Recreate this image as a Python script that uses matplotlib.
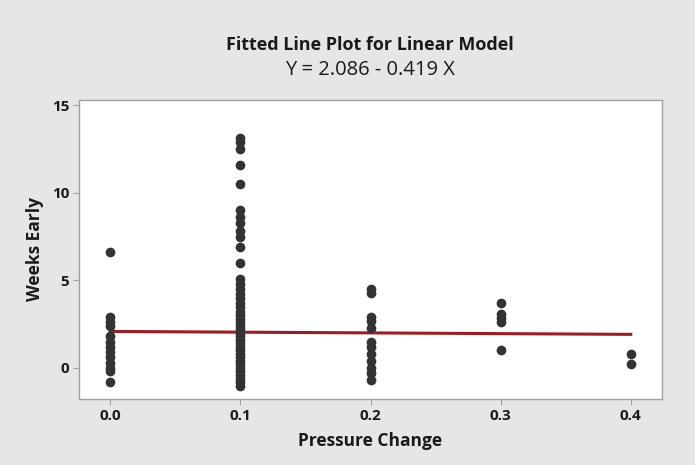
import numpy as np
import matplotlib
matplotlib.use('Agg')
import matplotlib.pyplot as plt

plt.rcParams['font.family'] = ['Open Sans', 'DejaVu Sans']

# Pressure change groups and weeks-early values
y_p00 = [6.6, 2.9, 2.6, 2.4, 1.8, 1.5, 1.2, 0.9, 0.6, 0.3, 0.0, -0.2, -0.8]
y_p01 = [13.1, 12.9, 12.5, 11.6, 10.5, 9.0, 8.6, 8.3, 7.8, 7.5, 6.9, 6.0,
         5.1, 4.8, 4.5, 4.2, 4.0, 3.7, 3.5, 3.2, 3.0, 2.8, 2.6, 2.4, 2.2,
         2.0, 1.8, 1.6, 1.4, 1.2, 1.0, 0.8, 0.6, 0.4, 0.2, 0.0, -0.2,
         -0.4, -0.6, -0.8, -1.0]
y_p02 = [4.5, 4.3, 2.9, 2.7, 2.3, 1.5, 1.2, 0.8, 0.4, 0.0, -0.3, -0.7]
y_p03 = [3.7, 3.1, 2.85, 2.6, 1.0]
y_p04 = [0.8, 0.25]

groups = [0.0, 0.1, 0.2, 0.3, 0.4]
values = [y_p00, y_p01, y_p02, y_p03, y_p04]

intercept = 2.086
slope = -0.419

bg = '#e6e6e6'
fig = plt.figure(figsize=(6.95, 4.65), dpi=100, facecolor=bg)
ax = fig.add_axes([0.1137, 0.1419, 0.8388, 0.6431])
ax.set_facecolor('white')

for g, vals in zip(groups, values):
    ax.plot([g] * len(vals), vals, 'o', color='#333333', markersize=7,
            markeredgewidth=0, zorder=3)

xf = np.array([0.0, 0.4])
ax.plot(xf, intercept + slope * xf, color='#a01b20', lw=2.2, zorder=2)

ax.set_xlim(-0.024, 0.424)
ax.set_ylim(-1.77, 15.29)
ax.set_xticks(groups)
ax.set_xticklabels(['0.0', '0.1', '0.2', '0.3', '0.4'])
ax.set_yticks([0, 5, 10, 15])

for s in ax.spines.values():
    s.set_color('#a0a0a0')
    s.set_linewidth(1.0)
ax.tick_params(direction='out', length=4, width=0.8, color='#a0a0a0',
               labelsize=11, labelcolor='#1a1a1a', pad=3)
for lab in ax.get_xticklabels() + ax.get_yticklabels():
    lab.set_fontweight('bold')

ax.set_xlabel('Pressure Change', fontsize=12.5, fontweight='bold',
              color='#1a1a1a', labelpad=7)
ax.set_ylabel('Weeks Early', fontsize=12.5, fontweight='bold',
              color='#1a1a1a', labelpad=6)

fig.text(0.532, 0.903, 'Fitted Line Plot for Linear Model', ha='center',
         va='center', fontsize=13, fontweight='bold', color='#1a1a1a')
fig.text(0.532, 0.849, 'Y = 2.086 - 0.419 X', ha='center', va='center',
         fontsize=14.5, color='#1a1a1a')

fig.savefig('out.png', dpi=100, facecolor=bg)
